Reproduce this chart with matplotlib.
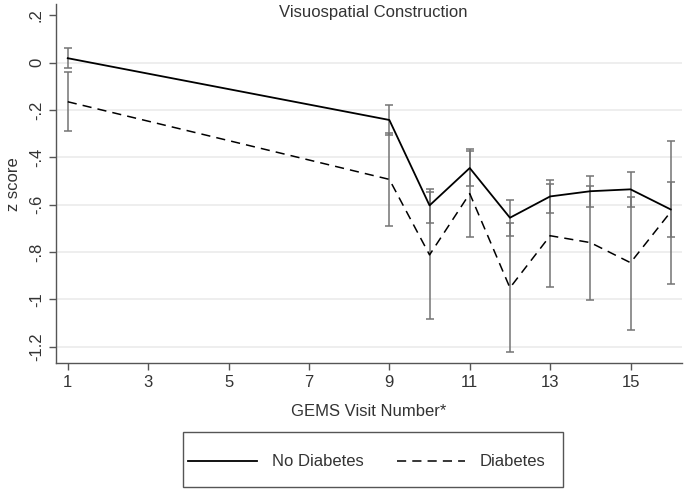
import matplotlib
matplotlib.use("Agg")
import matplotlib.pyplot as plt
from matplotlib.patches import Rectangle
import numpy as np

plt.rcParams['font.family'] = ['Liberation Sans', 'DejaVu Sans']

# GEMS visits and z-score means with 95% CI
visits = [1, 9, 10, 11, 12, 13, 14, 15, 16]

no_diab_mean = [0.019, -0.242, -0.603, -0.445, -0.655, -0.565, -0.543, -0.535, -0.620]
no_diab_lo = [-0.024, -0.305, -0.676, -0.520, -0.731, -0.634, -0.611, -0.608, -0.735]
no_diab_hi = [0.061, -0.177, -0.535, -0.366, -0.580, -0.496, -0.477, -0.460, -0.505]

diab_mean = [-0.165, -0.493, -0.812, -0.553, -0.951, -0.731, -0.760, -0.845, -0.630]
diab_lo = [-0.287, -0.689, -1.083, -0.738, -1.221, -0.946, -1.003, -1.129, -0.936]
diab_hi = [-0.041, -0.296, -0.548, -0.372, -0.679, -0.514, -0.520, -0.566, -0.329]

yticks = [0.2, 0, -0.2, -0.4, -0.6, -0.8, -1, -1.2]
ytick_labels = ['.2', '0', '-.2', '-.4', '-.6', '-.8', '-1', '-1.2']
xticks = [1, 3, 5, 7, 9, 11, 13, 15]

fig = plt.figure(figsize=(6.85, 5), dpi=100)
ax = fig.add_axes([0.0813, 0.2734, 0.9143, 0.7186])

err_color = '#747474'
for mean, lo, hi in [(no_diab_mean, no_diab_lo, no_diab_hi), (diab_mean, diab_lo, diab_hi)]:
    mean = np.array(mean)
    yerr = [mean - np.array(lo), np.array(hi) - mean]
    ax.errorbar(visits, mean, yerr=yerr, fmt='none', ecolor=err_color,
                elinewidth=1.1, capsize=2.6, capthick=1.1, zorder=2)

l1, = ax.plot(visits, no_diab_mean, color='black', lw=1.3, zorder=3)
l2, = ax.plot(visits, diab_mean, color='black', lw=1.1, linestyle=(0, (6, 4)), zorder=3)

ax.set_xlim(0.70, 16.28)
ax.set_ylim(-1.270, 0.248)
ax.set_xticks(xticks)
ax.set_yticks(yticks)
ax.set_yticklabels(ytick_labels, rotation=90, va='center')
for y in yticks[1:]:
    ax.axhline(y, color='#ebebeb', lw=1.2, zorder=0)

for side in ['top', 'right']:
    ax.spines[side].set_visible(False)
for side in ['left', 'bottom']:
    ax.spines[side].set_color('#555555')
    ax.spines[side].set_linewidth(1.0)
ax.tick_params(colors='#555555', labelcolor='#333333', labelsize=12, length=5, width=1.0)

fig.text(373 / 685, 1 - 13 / 500, 'Visuospatial Construction', fontsize=12,
         color='#333333', ha='center', va='center')
ax.set_xlabel('GEMS Visit Number*', fontsize=12, color='#333333', labelpad=10)
ax.set_ylabel('z score', fontsize=12, color='#333333', labelpad=6)

# legend box drawn separately so the padding matches
fig.patches.append(Rectangle((183 / 685, 13 / 500), 380 / 685, 55 / 500,
                             transform=fig.transFigure, fill=False,
                             edgecolor='#555555', lw=1.0))
fig.legend([l1, l2], ['No Diabetes', 'Diabetes'], loc='center', ncol=2,
           bbox_to_anchor=(367 / 685, 1 - 462 / 500),
           fontsize=12, frameon=False, handlelength=4.1, handletextpad=0.9,
           columnspacing=2.0, labelcolor='#333333')

fig.savefig('out.png', dpi=100, facecolor='white')
